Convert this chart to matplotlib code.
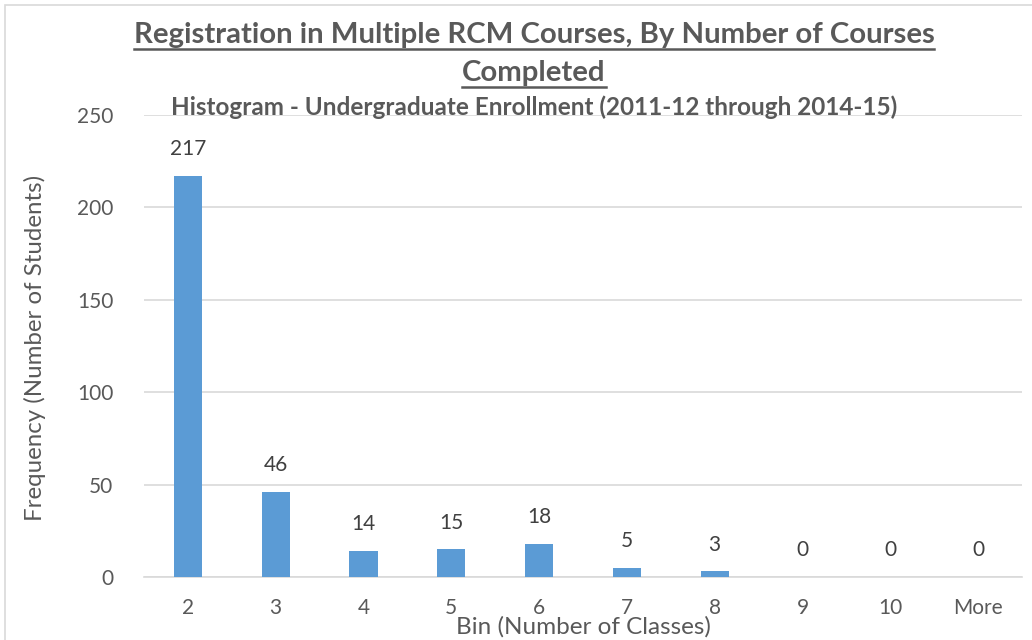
import matplotlib
matplotlib.use("Agg")
import matplotlib.pyplot as plt
from matplotlib.patches import Rectangle
from matplotlib.lines import Line2D

categories = ["2", "3", "4", "5", "6", "7", "8", "9", "10", "More"]
frequency = [217, 46, 14, 15, 18, 5, 3, 0, 0, 0]
yticks = [0, 50, 100, 150, 200, 250]

plt.rcParams['font.family'] = ['Lato', 'DejaVu Sans']
W, H = 1032, 640
fig = plt.figure(figsize=(W/100, H/100), dpi=100)
fig.patch.set_facecolor("white")

# outer chart border
fig.add_artist(Rectangle((5/W, -0.1), 1.2, 1 - 5/H + 0.1, transform=fig.transFigure,
                         fill=False, edgecolor="#d9d9d9", linewidth=1.2))

ax = fig.add_axes([144/W, 1 - 577/H, (1022-144)/W, (577-115)/H])
x = list(range(len(categories)))
ax.bar(x, frequency, width=0.32, color="#5b9bd5", zorder=3)
ax.set_xlim(-0.5, len(categories) - 0.5)
ax.set_ylim(0, 250)
ax.set_yticks(yticks)
ax.set_xticks(x)
ax.set_xticklabels(categories)
ax.grid(axis="y", color="#d9d9d9", linewidth=1.2, zorder=0)
for s in ["top", "right", "left"]:
    ax.spines[s].set_visible(False)
ax.spines["bottom"].set_color("#d9d9d9")
ax.spines["bottom"].set_linewidth(1.2)
ax.tick_params(axis="both", length=0, labelsize=15, colors="#595959")
ax.tick_params(axis="x", pad=15)
ax.tick_params(axis="y", pad=22)

for xi, v in zip(x, frequency):
    ax.annotate(str(v), (xi, v), xytext=(0, 12), textcoords="offset points",
                ha="center", va="bottom", fontsize=15, color="#404040")

fig.text(35/W, 1 - 348/H, "Frequency (Number of Students)", rotation=90,
         ha="center", va="center", fontsize=17.3, color="#595959")
fig.text(583/W, 1 - 627/H, "Bin (Number of Classes)", ha="center", va="center",
         fontsize=17.5, color="#595959")

t1 = fig.text(534/W, 1 - 35/H, "Registration in Multiple RCM Courses, By Number of Courses",
              ha="center", va="center", fontsize=21.2, fontweight="bold", color="#595959")
t2 = fig.text(534/W, 1 - 73/H, "Completed", ha="center", va="center",
              fontsize=21.2, fontweight="bold", color="#595959")
fig.text(534/W, 1 - 107/H, "Histogram - Undergraduate Enrollment (2011-12 through 2014-15)",
         ha="center", va="center", fontsize=17.5, fontweight="bold", color="#595959")

fig.canvas.draw()
r = fig.canvas.get_renderer()
for t in (t1, t2):
    bb = t.get_window_extent(r)
    yy = (bb.y0 - 1) / H
    fig.add_artist(Line2D([bb.x0/W, bb.x1/W], [yy, yy], transform=fig.transFigure,
                          color="#595959", linewidth=1.8))

fig.savefig("out.png", dpi=100)
